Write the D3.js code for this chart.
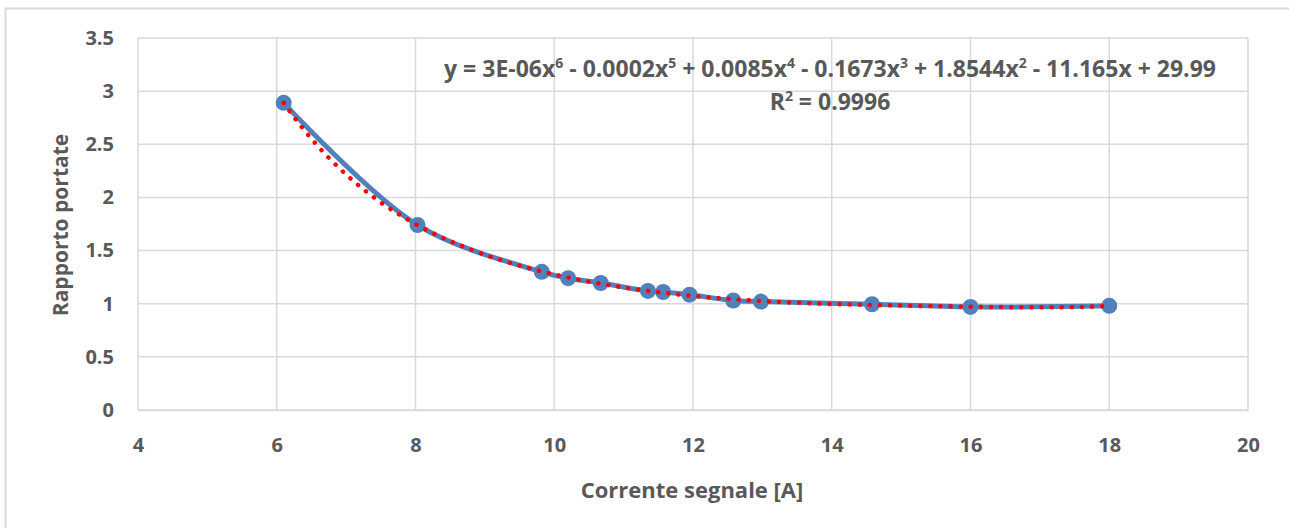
<!DOCTYPE html>
<html>
<head>
<meta charset="utf-8">
<script src="https://cdn.jsdelivr.net/npm/d3@7"></script>
<style>
  body { margin: 0; background: #fff; }
  text { font-family: "Open Sans", sans-serif; font-weight: bold; fill: #595959; }
</style>
</head>
<body>
<div id="chart"></div>
<script>
// data
var corrente = [6.1, 8.03, 9.82, 10.2, 10.67, 11.35, 11.57, 11.95, 12.58, 12.98, 14.58, 16.0, 18.0];
var rapporto = [2.89, 1.74, 1.30, 1.24, 1.195, 1.12, 1.11, 1.085, 1.03, 1.02, 0.995, 0.97, 0.98];
var xTicks = [4, 6, 8, 10, 12, 14, 16, 18, 20];
var yTicks = [0, 0.5, 1, 1.5, 2, 2.5, 3, 3.5];

var svgWidth = 1289;
var svgHeight = 528;

var margin = { top: 38, right: 41, bottom: 118, left: 138 };
var width = 1248 - margin.left;
var height = 410 - margin.top;

var svg = d3.select("#chart")
    .append("svg")
    .attr("width", svgWidth)
    .attr("height", svgHeight);

// outer chart border
svg.append("rect")
    .attr("x", 5.5).attr("y", 8.5)
    .attr("width", 1300).attr("height", 540)
    .attr("fill", "none")
    .attr("stroke", "#d9d9d9")
    .attr("stroke-width", 2);

var chart = svg.append("g")
    .attr("transform", `translate(${margin.left}, ${margin.top})`);

var xscale = d3.scaleLinear().domain([4, 20]).range([0, width]);
var yscale = d3.scaleLinear().domain([0, 3.5]).range([height, 0]);

// gridlines
chart.append("g").selectAll("line")
    .data(yTicks).enter().append("line")
    .attr("x1", 0).attr("x2", width)
    .attr("y1", d => yscale(d)).attr("y2", d => yscale(d))
    .attr("stroke", "#d9d9d9").attr("stroke-width", 1.5);
chart.append("g").selectAll("line")
    .data(xTicks).enter().append("line")
    .attr("x1", d => xscale(d)).attr("x2", d => xscale(d))
    .attr("y1", 0).attr("y2", height)
    .attr("stroke", "#d9d9d9").attr("stroke-width", 1.5);

// axes
var bottomAxis = d3.axisBottom(xscale).tickValues(xTicks).tickSize(0).tickPadding(28);
var leftAxis = d3.axisLeft(yscale).tickValues(yTicks).tickFormat(d => String(d)).tickSize(0).tickPadding(24);

var gx = chart.append("g")
    .attr("transform", `translate(0, ${height})`)
    .call(bottomAxis);
gx.select(".domain").attr("stroke", "#d9d9d9").attr("stroke-width", 1.5);
gx.selectAll("text").style("font-size", "20px").style("fill", "#595959");

var gy = chart.append("g").call(leftAxis);
gy.select(".domain").remove();
gy.selectAll("text").style("font-size", "20px").style("fill", "#595959");

// axis titles
svg.append("text")
    .attr("x", 692).attr("y", 498)
    .attr("text-anchor", "middle")
    .style("font-size", "22px")
    .text("Corrente segnale [A]");

svg.append("text")
    .attr("transform", "translate(68, 225) rotate(-90)")
    .attr("text-anchor", "middle")
    .style("font-size", "21px")
    .text("Rapporto portate");

// smoothed data line
var pts = corrente.map((c, i) => [c, rapporto[i]]);
var line = d3.line()
    .x(d => xscale(d[0]))
    .y(d => yscale(d[1]))
    .curve(d3.curveCatmullRom.alpha(0.5));

chart.append("path")
    .datum(pts)
    .attr("d", line)
    .attr("fill", "none")
    .attr("stroke", "#4f81bd")
    .attr("stroke-width", 5);

chart.selectAll("circle")
    .data(pts)
    .enter()
    .append("circle")
    .attr("cx", d => xscale(d[0]))
    .attr("cy", d => yscale(d[1]))
    .attr("r", 8)
    .attr("fill", "#4f81bd");

// polynomial trendline (order 6 least squares, like Excel)
function polyfit(xs, ys, deg) {
    var n = deg + 1;
    var xm = d3.mean(xs), xsd = d3.deviation(xs);
    var u = xs.map(x => (x - xm) / xsd);
    var A = [];
    for (var r = 0; r < n; r++) {
        A.push([]);
        for (var c = 0; c < n; c++) A[r].push(d3.sum(u, v => Math.pow(v, r + c)));
        A[r].push(d3.sum(u, (v, i) => Math.pow(v, r) * ys[i]));
    }
    for (var k = 0; k < n; k++) {
        var p = k;
        for (var r = k + 1; r < n; r++) if (Math.abs(A[r][k]) > Math.abs(A[p][k])) p = r;
        var t = A[k]; A[k] = A[p]; A[p] = t;
        for (var r = 0; r < n; r++) {
            if (r === k) continue;
            var f = A[r][k] / A[k][k];
            for (var c = k; c <= n; c++) A[r][c] -= f * A[k][c];
        }
    }
    var coef = A.map((row, i) => row[n] / row[i]);
    return x => {
        var v = (x - xm) / xsd, s = 0;
        for (var i = n - 1; i >= 0; i--) s = s * v + coef[i];
        return s;
    };
}
var fit = polyfit(corrente, rapporto, 6);
var trend = d3.range(0, 201).map(i => {
    var x = corrente[0] + (corrente[corrente.length - 1] - corrente[0]) * i / 200;
    return [x, fit(x)];
});

chart.append("path")
    .datum(trend)
    .attr("d", d3.line().x(d => xscale(d[0])).y(d => yscale(d[1])))
    .attr("fill", "none")
    .attr("stroke", "#ff0000")
    .attr("stroke-width", 4.5)
    .attr("stroke-linecap", "round")
    .attr("stroke-dasharray", "0.1 10");

// equation label
var eq = svg.append("text")
    .attr("x", 830).attr("y", 77)
    .attr("text-anchor", "middle")
    .style("font-size", "23px");
var parts = [["y = 3E-06x", "6"], [" - 0.0002x", "5"], [" + 0.0085x", "4"], [" - 0.1673x", "3"], [" + 1.8544x", "2"], [" - 11.165x + 29.99", null]];
parts.forEach(p => {
    eq.append("tspan").text(p[0]);
    if (p[1]) eq.append("tspan").attr("baseline-shift", "super").style("font-size", "14px").text(p[1]);
});
var r2 = svg.append("text")
    .attr("x", 830).attr("y", 110)
    .attr("text-anchor", "middle")
    .style("font-size", "23px");
r2.append("tspan").text("R");
r2.append("tspan").attr("baseline-shift", "super").style("font-size", "14px").text("2");
r2.append("tspan").text(" = 0.9996");
</script>
</body>
</html>
